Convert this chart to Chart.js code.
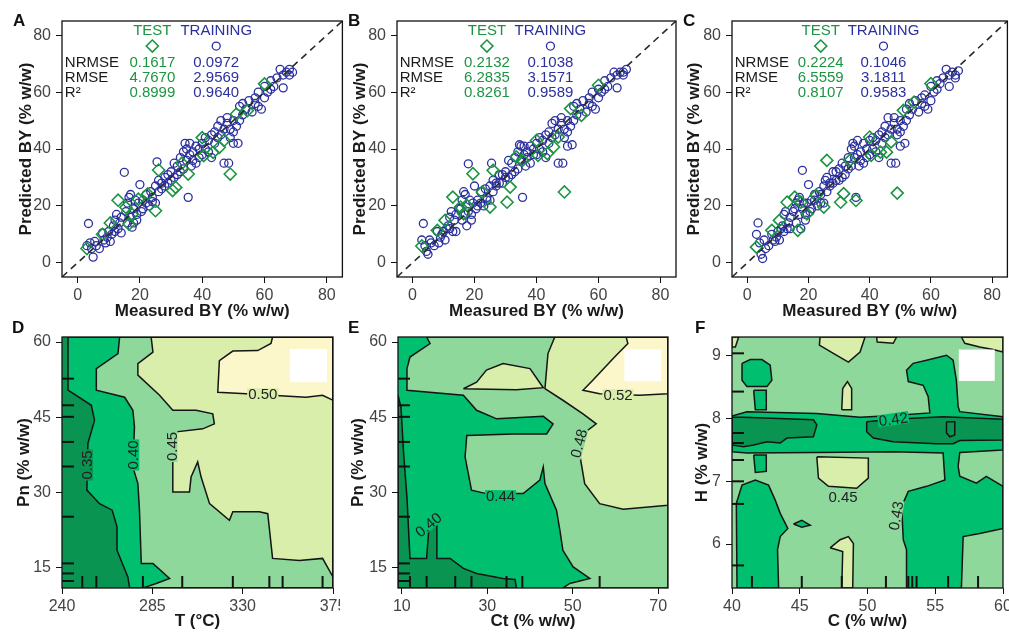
<!DOCTYPE html>
<html>
<head>
<meta charset="utf-8">
<script src="https://cdn.jsdelivr.net/npm/chart.js@4.4.1/dist/chart.umd.min.js"></script>
<style>
body{margin:0;width:1009px;height:632px;overflow:hidden;background:#fff;position:relative;font-family:'Liberation Sans',Arial,sans-serif}
canvas{position:absolute}
.tag{position:absolute;font-weight:bold;font-size:17px;line-height:17px;color:#111}
</style>
</head>
<body>
<canvas id="cA" width="350" height="322" style="left:0;top:0"></canvas>
<canvas id="cB" width="350" height="322" style="left:335px;top:0"></canvas>
<canvas id="cC" width="345" height="322" style="left:670px;top:0"></canvas>
<canvas id="cD" width="340" height="316" style="left:0;top:316px"></canvas>
<canvas id="cE" width="340" height="316" style="left:336px;top:316px"></canvas>
<canvas id="cF" width="339" height="316" style="left:670px;top:316px"></canvas>
<div class="tag" style="left:13px;top:12px">A</div>
<div class="tag" style="left:348px;top:12px">B</div>
<div class="tag" style="left:683px;top:12px">C</div>
<div class="tag" style="left:12px;top:319px">D</div>
<div class="tag" style="left:348px;top:319px">E</div>
<div class="tag" style="left:695px;top:319px">F</div>
<script>
var FONT = "'Liberation Sans', Arial, sans-serif";
var GREEN = '#1b9541', NAVY = '#2b309e';
var C_DARK = '#0a9452', C_BRIGHT = '#00bf6f', C_LIGHT = '#8fd89b', C_PALE = '#d9eeab', C_CREAM = '#fcf7cb';

// ---- top row: measured vs predicted BY ----
var bySteps = [0, 20, 40, 60, 80];
var statNames = ['NRMSE', 'RMSE', 'R\u00b2'];

var trainX = [
  3,3.5,4,4.5,5,5.5,6,7,8,8.5,
  9,9.5,10,10.5,11,11.5,12,12,12.5,13,
  13.5,14,14,15,15.5,16,16,16.5,17,17,
  17.5,18,18,18.5,19,19,19.5,20,20.5,21,
  21,22,22,23,23.5,24,24,25,25,25.5,
  26,26,27,27,28,28,29,29,30,30,
  31,31,32,32,33,33,34,34,34.5,35,
  35,35.5,36,36,36.5,37,37,38,38,39,
  39,40,40,41,41,42,42,43,43,44,
  44,45,45,46,46,47,47,48,48,48.5,
  49,49,50,50,50,51,51.5,52,52,53,
  53,54,55,56,57,57,58,58,59,60,
  60,61,62,62,63,64,65,66,66,67,
  68,68,69];
var trainPredA = [
  6,13.8,7,5,2,7.5,6,5,10.5,8,
  7,9,11,7.5,10,13,15,11,17,12,
  14,16,10.5,31.8,18,14,21,23,16,24,
  12.5,19,14,22,17,15,21,27.5,18,22,
  19,24,21,20,25,23,21.5,27,21,35.5,
  25,29,28,26,30,27,31,28,29,32,
  35,30,34,31,32,37,39,33,42,40,
  36,23,42,38,34,39,36,41,35,40,
  37,42,38,44,40,39,43,45,37,42,
  46,44,48,45,50,47,35,51,49,35,
  47,44,50,42,46,48,42,55,50,52,
  56,54,57,53,58,56,55,60,54,58,
  62,60,61,64,62,65,68,61.5,66,67,
  66,68,67];
var trainPredB = [
  8,13.8,6,4,3,8,7,6,11,7,
  9,10,11,8,12,13,16,12,18,11,
  15,17,11,19,19,15,22,25,17,24,
  13,18,34.8,22,17,15,21,27,19,22,
  20,25,21,20,26,23,22,27,22,35,
  25,29,28,27,31,28,31,28,30,32,
  36,30,35,31,32,37,39,33,41.5,41,
  36,23,41,38,34,39,37,41,35,40,
  38,42,38,44,40,39,43,45,37,42,
  46,44,49,45,50,47,35,51,49,35,
  47,44,50,41,46,48,41.5,55,50,52,
  56,54,57,53,58,56,55,60,54,58,
  61,60,61,64,62,65,67,61.5,66,67,
  66,67,68];
var trainPredC = [
  10,14,7,3,1.5,8,5,6,10,8,
  7.5,9,11,8,12,13,17,11,18,12,
  14,16,12,18,19,14,21,22,17,23,
  12,19,32.5,21,17,15,21,27.5,18,22,
  19,24,22,20,25,24,21,27,21,29,
  25,30,28,27,32,28,32,29,29,33,
  35,30,34,31,33,37,40,34,42,41,
  37,23,43,38,34,39,36,42,35,40,
  37,43,38,44,40,39,43,45,37,42,
  46,44,48,45,51,47,35,51,49,35,
  47,45,50,41,46,48,42,54,50,52,
  56,54,57,53,58,56,55,59,54,57,
  62,60,61,64,63,65,68,62,66,67,
  65,66,67.5];

var testX = [3,8,10.5,13,15.5,16.5,17.5,19.5,22.5,25,26,30.5,31.5,33.5,35.5,40,40.5,43.5,45.5,47,49,51,54.5,60];
var testPredA = [5,10,14,22,19.5,13.6,17,22.4,24.2,18.3,32.6,25.4,26.5,35,31.2,44,37.7,38.8,40.6,43,31.2,52.3,53.5,62.9];
var testPredB = [5.9,11.4,14.9,23.1,19.6,17.2,20.2,31.3,24.9,19.6,32.5,21.3,26.6,37.2,36,43,37.8,38.4,40.7,44.2,24.9,54.2,51.8,62.4];
var testPredC = [5.5,11.4,14.9,21.3,23.1,11.4,21.3,17.2,23.7,19.6,36,21.3,24.3,36,21.9,44.2,37.8,38.9,38.9,42.5,24.5,53.6,56.5,63];

var statsTestA = ['0.1617', '4.7670', '0.8999'], statsTrainA = ['0.0972', '2.9569', '0.9640'];
var statsTestB = ['0.2132', '6.2835', '0.8261'], statsTrainB = ['0.1038', '3.1571', '0.9589'];
var statsTestC = ['0.2224', '6.5559', '0.8107'], statsTrainC = ['0.1046', '3.1811', '0.9583'];

// ---- bottom row: contour regions (vertices in axis units) ----
var tTicks = [240, 285, 330, 375], pnTicks = [15, 30, 45, 60];
var ctTicks = [10, 30, 50, 70];
var cTicks = [40, 45, 50, 55, 60], hTicks = [6, 7, 8, 9];

var dLevel35 = [[243,61],[243,50.4],[254.6,47.4],[256.2,44.4],[252.9,39.8],[252.4,30.5],[258.7,27.8],[265,26.5],[267.4,23.2],[267.4,18.5],[272.8,13.2],[273.7,11],[375,11],[375,61]];
var dLevel40 = [[268.7,61],[267.9,57.7],[257.1,54.7],[257.1,50.4],[271.2,49],[275.3,46.4],[276.1,43.1],[275.3,35.1],[277.8,31.8],[278.6,26.5],[279.5,15.9],[285.3,15.9],[293.6,12.9],[286.9,11.9],[280.3,11],[375,11],[375,61]];
var dLevel45 = [[284.4,61],[285.3,58],[277.8,55.7],[277.8,53.4],[288.6,49.4],[295.2,46.4],[306.8,46.4],[315.1,45.7],[315.9,43.7],[310.1,42.7],[296.9,42.1],[295.2,41.1],[295.2,30.1],[303.5,30.1],[304.3,33.1],[307.6,36.1],[309.3,33.1],[313.5,27.8],[323.4,24.5],[325.1,26.2],[338.3,26.2],[342.5,25.8],[344.9,16.9],[358.2,16.5],[369.8,16.9],[375,13.2],[375,61]];
var dLevel50 = [[344.9,61],[344.1,59.7],[337.5,58.3],[325.1,58.2],[318.4,56.3],[317.6,50],[331.7,49.7],[361.5,49],[369.8,49.4],[375,48.4],[375,61]];
var dRugPn = [52.7,47.4,45.1,40.1,35.2,25.2,15.9,13.9,12.4];
var dRugT = [250.1,257.1,280.3,299.9,325.1,343.3,349.9,369.8];

var eLevel40 = [[9.1,49.4],[9.8,47],[10.4,38],[11.2,29],[11.9,16.9],[15.8,16.9],[16.4,23.8],[18.2,23.8],[18.2,16.9],[21.3,16.9],[24.4,14.9],[27.5,13.9],[33.7,12.9],[36.5,12.7],[36.8,11],[9.1,11]];
var eLevel44 = [[15.8,61],[16.6,59.7],[11.9,57],[11.2,54.7],[11.2,50.4],[24.4,49.4],[27.5,46.4],[32.2,44.7],[43.1,45.2],[45.4,43.7],[43.9,41.7],[36.1,41.7],[25.2,41.4],[24.8,37.1],[26.3,30.5],[29.8,29.8],[38.4,29.8],[42.3,32.5],[43.1,35.1],[43.5,31.8],[46.2,26.5],[47,22.5],[47.7,18.5],[50.1,15.2],[54,12.9],[49.3,11.9],[47.7,11],[72.3,11],[72.3,61]];
var eLevel48 = [[45.8,61],[44.2,57.7],[43.5,50.7],[47.7,48.4],[52.4,45.7],[55.5,43.7],[52.4,41.7],[51.6,37.8],[52.8,31.8],[56.3,27.8],[61.8,26.7],[72.3,27.5],[72.3,61]];
var eIsland48 = [[24.4,50.7],[27.5,52],[29.8,54.4],[33.7,55.7],[40,54.7],[43.1,50.9],[36.8,50.5],[30.6,50.6]];
var eLevel52 = [[62.5,61],[62.9,59.7],[59.8,57],[54.7,52.4],[52.4,50.4],[56.3,49.7],[65.6,49.4],[72.3,49.7],[72.3,61]];
var eRugPn = [52.7,47.4,45.1,40.1,35.2,25.2,15.9,13.9,12.4];
var eRugCt = [11.9,15.8,22.5,26.3,34.5,38.2,56.3];

var fPaleIslands = [
  [[40,9.3],[40.49,9.3],[40.25,9.14],[40,9.14]],
  [[46.5,9.3],[46.45,9.17],[47.48,9.04],[48.59,8.9],[49.45,9.06],[49.82,9.3]],
  [[50.67,9.3],[50.72,9.22],[51.9,9.2],[52.15,9.3]],
  [[56.93,9.3],[57.18,9.2],[58.28,9.14],[59.26,9.1],[60,9.06],[60,9.3]],
  [[48.1,8.14],[48.17,8.48],[48.52,8.59],[48.83,8.48],[48.83,8.14]],
  [[46.26,7.39],[46.38,7.05],[47.12,6.92],[49.2,6.89],[50.06,7.05],[50.06,7.37]],
  [[47.24,5.94],[47.98,6.07],[48.59,6.12],[48.96,6.01],[48.91,5.3],[48.1,5.3],[48.17,5.88]]
];
var fBrightBand = [[40,8.04],[41.1,8.11],[46.26,8.08],[49.45,8.02],[51.9,8.05],[54.6,8.09],[54.48,8.35],[54.11,8.53],[53.01,8.59],[52.88,8.77],[53.37,8.88],[54.36,8.93],[55.83,9.01],[56.32,8.93],[56.56,8.61],[56.69,8.19],[56.81,8.11],[60,8.03],[60,7.5],[56.81,7.46],[56.69,7.24],[56.81,7.08],[58.04,6.97],[58.77,7.08],[60,6.92],[60,6.25],[58.28,6.17],[57.06,6.12],[56.93,5.3],[52.88,5.3],[52.88,5.91],[52.64,6.07],[52.52,6.6],[53.01,6.84],[54.36,6.92],[55.71,7.02],[55.58,7.45],[51.9,7.47],[46.26,7.46],[41.1,7.45],[40,7.47]];
var fBrightPatches = [
  [[40.74,8.88],[41.35,8.94],[42.21,8.94],[42.82,8.85],[42.94,8.61],[42.58,8.51],[41.1,8.51],[40.74,8.61]],
  [[41.6,8.45],[42.53,8.45],[42.53,8.14],[41.72,8.14]],
  [[41.6,7.42],[42.53,7.42],[42.53,7.16],[41.72,7.14]],
  [[40.37,5.3],[40.32,6.65],[40.74,6.94],[41.72,7.02],[42.7,6.94],[43.19,6.7],[43.56,6.49],[44.12,6.25],[43.56,6.12],[43.36,5.91],[43.44,5.3]],
  [[44.54,6.32],[45.15,6.38],[45.77,6.3],[45.15,6.27]]
];
var fDarkCores = [
  [[40,8.02],[40.86,8.02],[46.01,7.98],[46.26,7.9],[46.01,7.71],[44.05,7.69],[43.56,7.61],[42.58,7.63],[41.6,7.58],[40.86,7.55],[40,7.58]],
  [[49.94,7.95],[51.9,7.99],[55.58,8.03],[60,7.99],[60,7.66],[56.81,7.65],[56.32,7.6],[55.09,7.6],[51.9,7.63],[50.43,7.69],[49.94,7.79]],
  [[55.83,7.95],[56.44,7.95],[56.44,7.74],[56.07,7.71],[55.83,7.77]]
];
var fRugH = [9.04,8.43,7.77,7.61,7.34,7.0,6.64,5.66];
var fRugC = [41.47,45.15,48.1,51.36,53.01,53.3,53.62,55.95,58.16];

// ---- helpers ----
function xy(xs, ys) {
  return xs.map(function (v, i) { return {x: v, y: ys[i]}; });
}

function region(points, color, outline) {
  var data = points.concat([points[0]]).map(function (p) { return {x: p[0], y: p[1]}; });
  return {
    data: data, showLine: true, fill: 'shape', backgroundColor: color,
    borderColor: '#151515', borderWidth: outline ? 1.5 : 0,
    pointRadius: 0, tension: 0, clip: 0
  };
}

function stack(list) {
  list.forEach(function (d, i) { d.order = list.length - i; });
  return list;
}

function axis(min, max, steps, title, fix, titlePad, horizontal) {
  return {
    type: 'linear', min: min, max: max,
    afterBuildTicks: function (s) { s.ticks = steps.map(function (v) { return {value: v}; }); },
    afterFit: function (s) {
      if (horizontal) { s.height = fix; s.paddingLeft = 0; s.paddingRight = 0; }
      else { s.width = fix; s.paddingTop = 0; s.paddingBottom = 0; }
    },
    grid: {display: true, drawOnChartArea: false, drawTicks: true, tickLength: 6, color: '#111', lineWidth: 1},
    border: {display: false},
    ticks: {font: {family: FONT, size: 16}, color: '#444', padding: horizontal ? 3 : 5, autoSkip: false, maxRotation: 0},
    title: {display: true, text: title, color: '#1a1a1a', font: {family: FONT, size: 17, weight: 'bold'},
            padding: horizontal ? {top: 0, bottom: 0} : {top: titlePad, bottom: 0}}
  };
}

var decor = {
  id: 'decor',
  afterDatasetsDraw: function (chart, args, o) {
    var ctx = chart.ctx, a = chart.chartArea;
    var sx = chart.scales.x, sy = chart.scales.y;
    var X = function (v) { return sx.getPixelForValue(v); };
    var Y = function (v) { return sy.getPixelForValue(v); };
    ctx.save();
    if (o.blank) {
      ctx.fillStyle = '#fff';
      ctx.fillRect(X(o.blank[0]), Y(o.blank[3]), X(o.blank[1]) - X(o.blank[0]), Y(o.blank[2]) - Y(o.blank[3]));
    }
    (o.labels || []).forEach(function (l) {
      ctx.save();
      ctx.translate(X(l.x), Y(l.y));
      ctx.rotate(l.rot * Math.PI / 180);
      ctx.font = '15px ' + FONT;
      var w = ctx.measureText(l.t).width;
      ctx.fillStyle = l.bg;
      ctx.fillRect(-w / 2 - 1, -6, w + 2, 12);
      ctx.fillStyle = '#222';
      ctx.textAlign = 'center';
      ctx.textBaseline = 'middle';
      ctx.fillText(l.t, 0, 1);
      ctx.restore();
    });
    ctx.strokeStyle = '#111';
    ctx.lineWidth = 2;
    (o.rugY || []).forEach(function (v) {
      ctx.beginPath(); ctx.moveTo(a.left, Y(v)); ctx.lineTo(a.left + 12, Y(v)); ctx.stroke();
    });
    (o.rugX || []).forEach(function (v) {
      ctx.beginPath(); ctx.moveTo(X(v), a.bottom); ctx.lineTo(X(v), a.bottom - 12); ctx.stroke();
    });
    if (o.stats) {
      var s = o.stats;
      ctx.font = '15px ' + FONT;
      ctx.textBaseline = 'middle';
      ctx.textAlign = 'center';
      ctx.fillStyle = GREEN; ctx.fillText('TEST', X(s.colTest), Y(s.headY));
      ctx.fillStyle = NAVY; ctx.fillText('TRAINING', X(s.colTrain), Y(s.headY));
      ctx.lineWidth = 1.6;
      var dx = X(s.colTest), dy = Y(s.symY);
      ctx.strokeStyle = GREEN;
      ctx.beginPath(); ctx.moveTo(dx, dy - 6); ctx.lineTo(dx + 6, dy); ctx.lineTo(dx, dy + 6); ctx.lineTo(dx - 6, dy); ctx.closePath(); ctx.stroke();
      ctx.strokeStyle = NAVY; ctx.lineWidth = 1.3;
      ctx.beginPath(); ctx.arc(X(s.colTrain), Y(s.symY), 4, 0, Math.PI * 2); ctx.stroke();
      statNames.forEach(function (n, i) {
        var yy = Y(s.rows[i]);
        ctx.textAlign = 'left'; ctx.fillStyle = '#1a1a1a'; ctx.fillText(n, X(s.colName), yy);
        ctx.textAlign = 'center';
        ctx.fillStyle = GREEN; ctx.fillText(s.test[i], X(s.colTest), yy);
        ctx.fillStyle = NAVY; ctx.fillText(s.train[i], X(s.colTrain), yy);
      });
    }
    ctx.strokeStyle = '#111';
    ctx.lineWidth = 1.3;
    ctx.strokeRect(a.left, a.top, a.width, a.height);
    ctx.restore();
  }
};

function draw(id, datasets, scales, pad, extra) {
  return new Chart(document.getElementById(id), {
    type: 'scatter',
    data: {datasets: datasets},
    options: {
      responsive: false, animation: false, events: [],
      layout: {padding: {left: 0, right: pad.right, top: pad.top, bottom: 0}},
      scales: scales,
      plugins: {legend: {display: false}, tooltip: {enabled: false},
                filler: {drawTime: 'beforeDatasetsDraw'}, decor: extra}
    },
    plugins: [decor]
  });
}

function parity(id, predTrain, predTest, test, train, ypad, right) {
  var sets = [
    {data: [{x: -5, y: -5}, {x: 85, y: 85}], showLine: true, borderColor: '#2a2a2a', borderWidth: 1.6,
     borderDash: [7, 5], pointRadius: 0},
    {data: xy(testX, predTest), pointStyle: 'rectRot', pointRadius: 6, borderWidth: 1.6,
     borderColor: GREEN, backgroundColor: 'rgba(0,0,0,0)'},
    {data: xy(trainX, predTrain), pointStyle: 'circle', pointRadius: 4, borderWidth: 1.3,
     borderColor: NAVY, backgroundColor: 'rgba(0,0,0,0)'}
  ];
  draw(id, sets, {
    x: axis(-5, 85, bySteps, 'Measured BY (% w/w)', 45, 0, true),
    y: axis(-5, 85, bySteps, 'Predicted BY (% w/w)', 62, ypad, false)
  }, {top: 21, right: right}, {
    stats: {test: test, train: train, colName: -4.1, colTest: 24, colTrain: 44.5,
            headY: 81.5, symY: 76.2, rows: [70.4, 65.1, 59.9]}
  });
}

parity('cA', trainPredA, testPredA, statsTestA, statsTrainA, 16, 7);
parity('cB', trainPredB, testPredB, statsTestB, statsTrainB, 15, 9);
parity('cC', trainPredC, testPredC, statsTestC, statsTrainC, 14, 3);

// D: T vs Pn
draw('cD', stack([
  region([[240,11],[375,11],[375,61],[240,61]], C_DARK, false),
  region(dLevel35, C_BRIGHT, true),
  region(dLevel40, C_LIGHT, true),
  region(dLevel45, C_PALE, true),
  region(dLevel50, C_CREAM, true)
]), {
  x: axis(240, 375, tTicks, 'T (\u00b0C)', 44, 0, true),
  y: axis(11, 61, pnTicks, 'Pn (% w/w)', 62, 14, false)
}, {top: 21, right: 7}, {
  blank: [353.6, 372, 52, 58.6],
  rugY: dRugPn, rugX: dRugT,
  labels: [
    {t: '0.35', x: 252.4, y: 35.5, rot: -90, bg: C_DARK},
    {t: '0.40', x: 275.5, y: 37.5, rot: -90, bg: C_BRIGHT},
    {t: '0.45', x: 294.5, y: 39.2, rot: -90, bg: C_LIGHT},
    {t: '0.50', x: 340, y: 49.6, rot: 0, bg: C_PALE}
  ]
});

// E: Ct vs Pn
draw('cE', stack([
  region([[9.1,11],[72.3,11],[72.3,61],[9.1,61]], C_BRIGHT, false),
  region(eLevel40, C_DARK, true),
  region(eLevel44, C_LIGHT, true),
  region(eIsland48, C_PALE, true),
  region(eLevel48, C_PALE, true),
  region(eLevel52, C_CREAM, true)
]), {
  x: axis(9.1, 72.3, ctTicks, 'Ct (% w/w)', 44, 0, true),
  y: axis(11, 61, pnTicks, 'Pn (% w/w)', 62, 12, false)
}, {top: 21, right: 8}, {
  blank: [62.1, 70.7, 52.2, 58.5],
  rugY: eRugPn, rugX: eRugCt,
  labels: [
    {t: '0.52', x: 60.6, y: 49.4, rot: 0, bg: C_PALE},
    {t: '0.48', x: 51.4, y: 39.8, rot: -75, bg: C_LIGHT},
    {t: '0.44', x: 33.1, y: 29.3, rot: 0, bg: C_BRIGHT},
    {t: '0.40', x: 16.2, y: 23.6, rot: -40, bg: C_BRIGHT}
  ]
});

// F: C vs H
var fSets = [region([[40,5.3],[60,5.3],[60,9.3],[40,9.3]], C_LIGHT, false)];
fPaleIslands.forEach(function (p) { fSets.push(region(p, C_PALE, true)); });
fSets.push(region(fBrightBand, C_BRIGHT, true));
fBrightPatches.forEach(function (p) { fSets.push(region(p, C_BRIGHT, true)); });
fDarkCores.forEach(function (p) { fSets.push(region(p, C_DARK, true)); });
draw('cF', stack(fSets), {
  x: axis(40, 60, cTicks, 'C (% w/w)', 44, 0, true),
  y: axis(5.3, 9.3, hTicks, 'H (% w/w)', 62, 22, false)
}, {top: 21, right: 6}, {
  blank: [56.74, 59.39, 8.6, 9.1],
  rugY: fRugH, rugX: fRugC,
  labels: [
    {t: '0.42', x: 51.9, y: 7.99, rot: -8, bg: C_BRIGHT},
    {t: '0.45', x: 48.2, y: 6.76, rot: 0, bg: C_LIGHT},
    {t: '0.43', x: 52.1, y: 6.45, rot: -80, bg: C_LIGHT}
  ]
});
</script>
</body>
</html>
